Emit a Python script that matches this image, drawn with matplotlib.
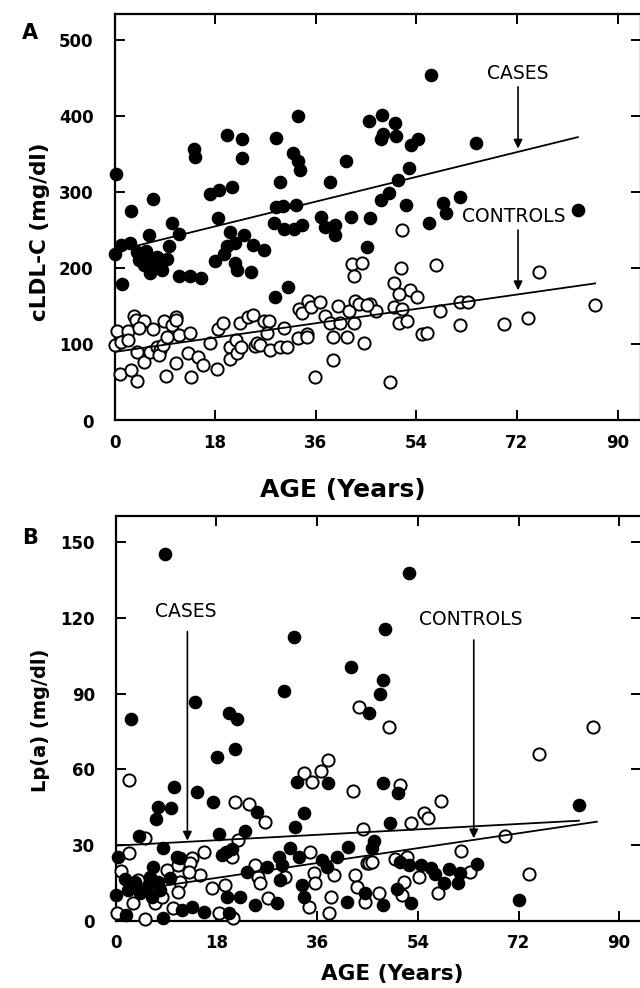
import matplotlib
matplotlib.use("Agg")
import matplotlib.pyplot as plt

# ---------------- Panel A data: cLDL-C vs age ----------------
a_cases_age = [0.3, 32.8, 45.6, 20.2, 22.9, 28.9, 14.3, 14.4, 22.9, 31.9, 32.8, 33.1, 41.5, 29.7, 38.6,
               6.8, 3.0, 17.0, 18.7, 21.1, 28.9, 30.2, 32.5, 18.6, 37.0, 42.3, 45.7, 10.3, 11.6, 6.1,
               28.6, 30.4, 32.1, 33.6, 37.6, 39.5, 39.5, 20.6, 23.1, 2.7, 1.1, 0.0, 4.1, 5.6, 9.8,
               20.1, 21.5, 24.8, 26.7, 4.4, 6.4, 7.6, 9.4, 5.2, 7.3, 8.5, 6.4, 18.0, 19.6, 21.5,
               22.0, 24.4, 11.6, 13.5, 15.5, 1.4, 31.0, 45.1, 28.8, 56.7, 47.9, 50.2, 47.7, 48.1, 50.3,
               53.0, 54.3, 64.6, 52.7, 50.8, 49.1, 47.7, 52.2, 58.7, 59.4, 61.9, 56.3, 83.0]
a_cases_ldl = [324, 400, 393, 375, 370, 371, 356, 346, 344, 351, 341, 329, 341, 313, 313,
               291, 275, 297, 302, 306, 280, 281, 283, 266, 267, 267, 266, 259, 245, 243,
               259, 252, 252, 257, 254, 257, 243, 248, 243, 233, 230, 218, 221, 222, 229,
               229, 233, 230, 224, 211, 213, 215, 212, 204, 206, 197, 193, 210, 219, 207,
               198, 195, 190, 190, 187, 179, 175, 228, 162, 454, 401, 390, 369, 376, 373,
               362, 370, 364, 332, 316, 299, 289, 283, 285, 272, 293, 259, 277]

a_ctrl_age = [42.5, 44.2, 42.9, 51.5, 51.2, 57.6, 75.9, 50.0, 52.9,
              50.9, 54.2, 45.7, 46.7, 50.0, 51.5, 50.9, 52.4, 55.1, 56.0, 58.2, 61.8, 63.2, 61.8,
              69.6, 73.9, 86.0, 49.3,
              0.4, 0.1, 1.1, 2.5, 2.5, 1.0, 2.9, 4.0, 3.4, 3.9, 5.2, 4.3, 6.8, 4.0, 5.2, 6.4,
              7.6, 8.2, 7.9, 8.7, 8.9, 10.3, 11.0, 11.0, 9.2, 11.0, 11.6, 9.4, 13.5, 13.1, 13.7,
              15.0, 15.8, 17.1, 18.3, 18.6, 19.4, 20.6, 20.7, 21.8, 22.0, 22.6, 22.4, 23.8, 24.8,
              25.2, 25.5, 26.0, 26.7, 27.6, 27.2, 27.9, 29.7, 30.9, 30.4, 32.8, 34.5, 34.5, 33.0,
              33.6, 34.7, 35.2, 36.7, 35.9, 37.7, 39.1, 38.6, 39.9, 40.4, 39.1, 41.6, 41.9, 42.8,
              43.1, 43.7, 44.6, 45.2]
a_ctrl_ldl = [206, 207, 190, 250, 200, 204, 195, 180, 171,
              166, 162, 153, 144, 149, 147, 128, 131, 114, 115, 144, 155, 155, 126,
              127, 134, 152, 50,
              118, 99, 103, 117, 106, 61, 66, 52, 137, 132, 131, 121, 120, 90, 77, 90,
              97, 93, 86, 99, 130, 126, 136, 132, 58, 76, 112, 109, 115, 89, 57,
              83, 73, 102, 67, 120, 128, 97, 81, 106, 89, 96, 128, 136, 139,
              98, 102, 99, 130, 130, 115, 93, 97, 97, 122, 108, 114, 109, 146,
              141, 157, 149, 156, 57, 137, 79, 128, 150, 128, 110, 110, 144, 128,
              157, 153, 102, 152]

a_cases_fit_age = [3.7, 82.9]
a_cases_fit_ldl = [229, 372]
a_ctrl_fit_age = [0.0, 86.0]
a_ctrl_fit_ldl = [90, 180]

# ---------------- Panel B data: Lp(a) vs age ----------------
b_cases_age = [8.8, 52.5, 31.8, 48.1, 42.1, 47.8, 47.3, 30.0, 14.2, 2.7, 20.2, 21.6, 45.2, 21.4, 18.1,
               10.4, 14.6, 17.4, 25.2, 7.6, 9.8, 7.2, 4.2, 18.4, 23.1, 32.4, 38.0, 33.7, 32.1, 41.6,
               0.4, 1.6, 0.0, 2.2, 3.4, 4.3, 1.8, 5.5, 6.1, 6.7, 6.4, 7.6, 7.9, 8.5, 8.5,
               9.7, 10.9, 11.5, 11.8, 13.6, 15.7, 19.0, 19.7, 20.8, 19.9, 20.2, 22.2, 23.4, 24.9, 27.0,
               28.8, 29.1, 29.7, 29.4, 31.2, 32.7, 33.3, 33.6, 36.9, 37.8, 39.6, 41.4,
               47.8, 50.4, 49.1, 82.8, 72.0, 46.2, 45.8, 50.9, 52.4, 54.6, 56.3, 57.0, 59.6, 50.3,
               52.8, 44.6, 47.8, 58.7, 61.1, 61.6, 64.6]
b_cases_lpa = [145.4, 138, 112.4, 115.7, 100.7, 95.4, 89.8, 91.2, 86.8, 79.8, 82.2, 80, 82.5, 68, 65,
               52.9, 51.1, 47.2, 43.2, 44.9, 44.5, 40.2, 33.5, 34.3, 35.6, 55.1, 54.7, 42.5, 37.0, 29.0,
               25, 16.3, 10.1, 12.1, 15.4, 10.8, 2.2, 13.4, 17.4, 21.3, 9.4, 15.4, 12.1, 0.9, 28.6,
               16.7, 25.3, 24.7, 4.2, 5.5, 3.5, 26.0, 27.3, 28.3, 9.4, 2.9, 9.4, 19.4, 6.2, 21.3,
               6.8, 25.3, 22.0, 16.1, 28.6, 25.3, 14.1, 9.4, 24.0, 21.3, 25.3, 7.5,
               54.7, 50.7, 38.6, 45.8, 8.1, 31.7, 28.6, 23.3, 22.0, 22.0, 20.7, 18.5, 20.3, 12.4,
               7.1, 10.8, 6.2, 14.8, 15.0, 18.7, 22.4]

b_ctrl_age = [43.5, 48.9, 85.4, 38.0, 75.6,
              2.4, 21.4, 23.9, 26.7, 5.2, 21.9, 33.7, 35.0, 36.6, 42.4, 44.2,
              2.4, 1.0, 0.2, 4.0, 3.1, 5.2, 7.0, 8.2, 9.1, 10.3, 11.2, 11.5, 11.2, 13.6, 13.3,
              15.7, 15.1, 13.0, 17.2, 20.8, 19.6, 18.4, 21.0, 24.9, 25.5, 25.8, 27.3, 30.3, 34.8,
              34.5, 35.4, 35.7, 39.0, 38.4, 38.1, 42.8, 43.1, 44.9,
              50.8, 58.1, 55.1, 55.8, 52.8, 69.5, 61.8, 73.9, 45.2, 45.8, 50.0, 52.1, 54.2, 51.5,
              51.2, 47.0, 44.6, 57.6, 63.4]
b_ctrl_lpa = [84.6, 76.7, 76.7, 63.7, 66,
              55.8, 46.9, 46.2, 39.2, 32.6, 31.9, 58.4, 55.1, 59.4, 51.4, 36.3,
              26.9, 19.8, 2.9, 16.1, 6.8, 0.5, 6.8, 9.4, 20.0, 4.8, 22.0, 15.4, 11.4, 24.7, 22.7,
              27.3, 18.1, 19.4, 12.8, 25.3, 14.1, 2.9, 0.9, 22.0, 17.4, 14.8, 8.8, 17.4, 27.3,
              5.5, 18.7, 14.8, 18.1, 9.4, 2.9, 18.1, 13.4, 22.7,
              53.8, 47.5, 42.8, 40.6, 38.6, 33.5, 27.7, 18.5, 22.7, 23.3, 24.3, 25.3, 17.4, 15.4,
              10.1, 11.0, 7.5, 11.0, 19.4]

b_cases_fit_age = [0.0, 82.8]
b_cases_fit_lpa = [29.7, 39.6]
b_ctrl_fit_age = [0.0, 86.0]
b_ctrl_fit_lpa = [11.0, 39.2]

a_xticks = [0, 18, 36, 54, 72, 90]
a_yticks = [0, 100, 200, 300, 400, 500]
b_yticks = [0, 30, 60, 90, 120, 150]

# ---------------- Figure ----------------
plt.rcParams['font.family'] = ['DejaVu Sans']
fig = plt.figure(figsize=(6.4, 9.88), dpi=100)
W, H = 640.0, 988.0

def make_axes(left_px, top_px, right_px, bottom_px):
    return fig.add_axes([left_px / W, 1 - bottom_px / H, (right_px - left_px) / W,
                         (bottom_px - top_px) / H])

def ftext(xp, yp, s, **kw):
    return fig.text(xp / W, 1 - yp / H, s, **kw)

axA = make_axes(114.5, 14.5, 641, 420.5)
axB = make_axes(115.8, 515.5, 641, 920.5)

ms = 8.8
for ax in (axA, axB):
    for sp in ax.spines.values():
        sp.set_linewidth(1.6)
    ax.tick_params(axis='both', direction='in', length=7, width=1.4, top=True, right=True,
                   labelsize=12)
    ax.tick_params(axis='y', pad=15)
    ax.tick_params(axis='x', pad=10)

arrow_kw = dict(arrowstyle='-|>', color='black', lw=1.2, mutation_scale=13, shrinkA=0, shrinkB=0)

# Panel A
axA.plot(a_ctrl_age, a_ctrl_ldl, 'o', ms=ms, mfc='white', mec='black', mew=1.4, clip_on=False, zorder=3)
axA.plot(a_cases_age, a_cases_ldl, 'o', ms=ms, mfc='black', mec='black', mew=1, clip_on=False, zorder=4)
axA.plot(a_cases_fit_age, a_cases_fit_ldl, color='black', lw=1.3, zorder=5)
axA.plot(a_ctrl_fit_age, a_ctrl_fit_ldl, color='black', lw=1.3, zorder=5)
axA.set_xlim(0, 94.2)
axA.set_ylim(0, 533)
axA.set_xticks(a_xticks)
axA.set_yticks(a_yticks)
axA.set_xticklabels([str(v) for v in a_xticks], fontweight='bold')
axA.set_yticklabels([str(v) for v in a_yticks], fontweight='bold')
axA.text(72.2, 456, 'CASES', fontsize=13.5, ha='center', va='center')
axA.annotate('', xy=(72.2, 357), xytext=(72.2, 438), arrowprops=arrow_kw)
axA.text(71.5, 268, 'CONTROLS', fontsize=13.5, ha='center', va='center', zorder=6)
axA.annotate('', xy=(72.2, 171), xytext=(72.2, 250), arrowprops=arrow_kw)
ftext(30, 33, 'A', fontsize=15, fontweight='bold', ha='center', va='center')
ftext(343, 490, 'AGE (Years)', fontsize=18, fontweight='bold', ha='center', va='center')
ftext(40, 232, 'cLDL-C (mg/dl)', fontsize=15.5, fontweight='bold', ha='center', va='center',
      rotation=90)

# Panel B
axB.plot(b_ctrl_age, b_ctrl_lpa, 'o', ms=ms, mfc='white', mec='black', mew=1.4, clip_on=False, zorder=3)
axB.plot(b_cases_age, b_cases_lpa, 'o', ms=ms, mfc='black', mec='black', mew=1, clip_on=False, zorder=4)
axB.plot(b_cases_fit_age, b_cases_fit_lpa, color='black', lw=1.3, zorder=5)
axB.plot(b_ctrl_fit_age, b_ctrl_fit_lpa, color='black', lw=1.3, zorder=5)
axB.set_xlim(0, 93.9)
axB.set_ylim(0, 160.7)
axB.set_xticks(a_xticks)
axB.set_yticks(b_yticks)
axB.set_xticklabels([str(v) for v in a_xticks], fontweight='bold')
axB.set_yticklabels([str(v) for v in b_yticks], fontweight='bold')
axB.text(12.5, 122.8, 'CASES', fontsize=13.5, ha='center', va='center')
axB.annotate('', xy=(12.8, 31.7), xytext=(12.8, 114.6), arrowprops=arrow_kw)
axB.text(63.4, 119.5, 'CONTROLS', fontsize=13.5, ha='center', va='center')
axB.annotate('', xy=(64.0, 32.6), xytext=(64.0, 111.3), arrowprops=arrow_kw)
ftext(30, 538, 'B', fontsize=15, fontweight='bold', ha='center', va='center')
ftext(392, 974, 'AGE (Years)', fontsize=15.5, fontweight='bold', ha='center', va='center')
ftext(40, 720, 'Lp(a) (mg/dl)', fontsize=14, fontweight='bold', ha='center', va='center',
      rotation=90)

fig.savefig('out.png', dpi=100)
